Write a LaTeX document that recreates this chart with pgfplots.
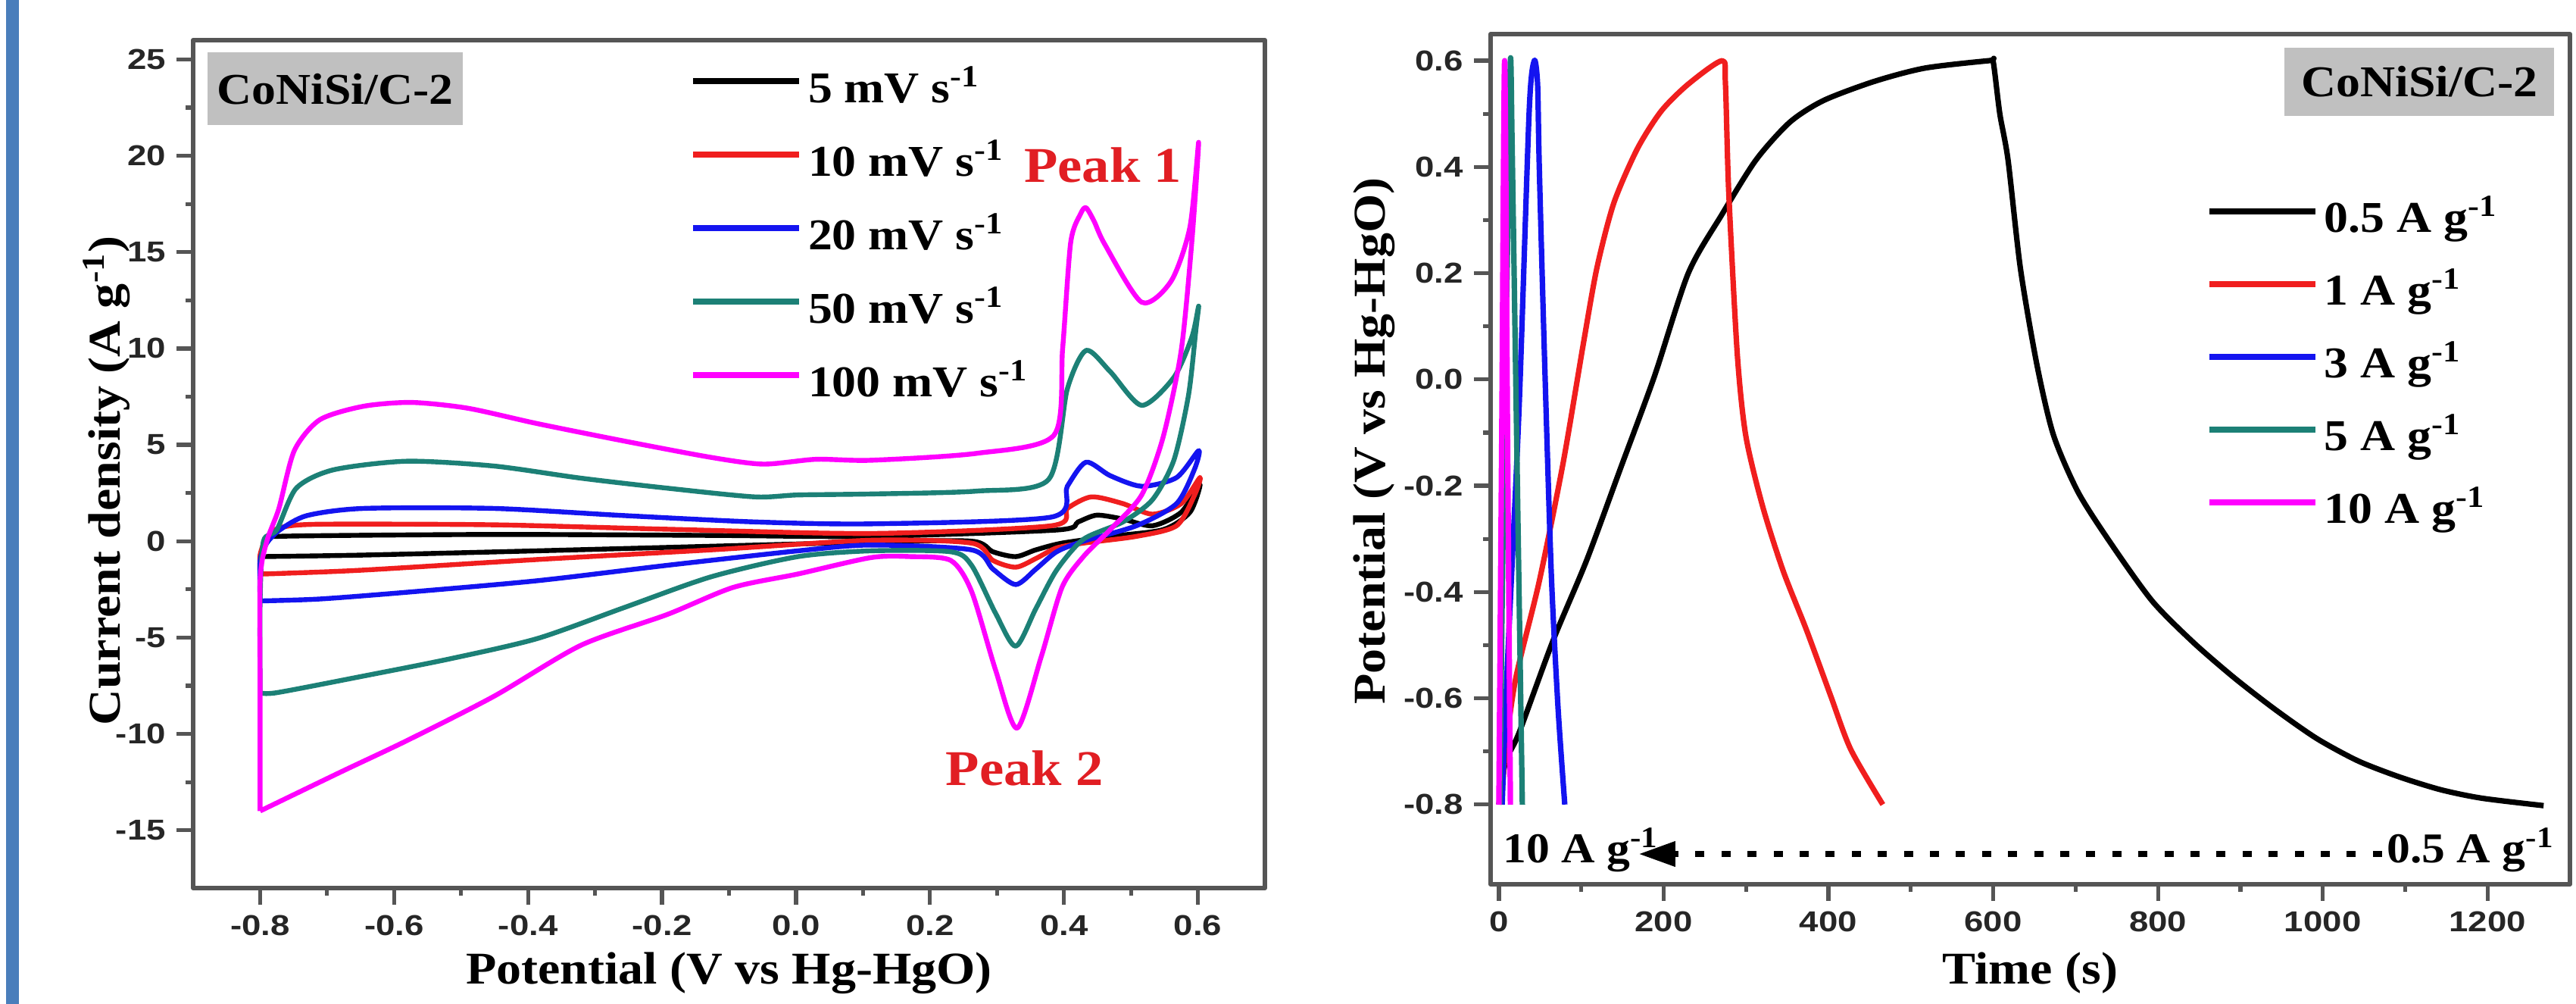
\documentclass[border=0pt]{standalone}
\usepackage{fontspec}
\setmainfont[FakeStretch=1.1]{Liberation Serif}
\newfontfamily\ticksf[FakeStretch=1.2]{Liberation Sans}
\usepackage{pgfplots}
\pgfplotsset{compat=1.18}
\usetikzlibrary{arrows.meta}

\definecolor{cvteal}{RGB}{28,128,118}
\definecolor{cvmag}{RGB}{255,0,255}
\definecolor{cvred}{RGB}{240,30,30}
\definecolor{cvblue}{RGB}{20,20,240}
\definecolor{framegray}{RGB}{85,85,85}
\definecolor{boxgray}{RGB}{192,192,192}
\definecolor{peakred}{RGB}{225,30,35}
\definecolor{sideblue}{RGB}{74,126,187}

\pgfplotsset{
  panel/.style={
    scale only axis,
    axis line style={framegray, line width=1.5pt},
    tick pos=left,
    tick align=outside,
    major tick length=5.5pt,
    minor tick length=2.5pt,
    tick style={framegray, line width=1.3pt},
    tick label style={font=\ticksf\bfseries\fontsize{9.5}{9.5}\selectfont, text=black!85},
    /pgf/number format/assume math mode=true,
    /pgf/number format/1000 sep={},
    legend cell align=left,
    legend style={draw=none, fill=none, column sep=2pt, inner sep=0pt, outer sep=0pt,
      font=\bfseries\fontsize{14.5}{14.5}\selectfont,
      nodes={inner sep=0pt, text height=11pt, text depth=4pt}},
    legend image code/.code={\draw[#1, line width=2pt] (0pt,3.5pt) -- (35pt,3.5pt);},
    smooth, tension=0.45, line join=round,
  }
}

\begin{document}
\begin{tikzpicture}
\path[use as bounding box] (0,0) rectangle (850.25pt,331.25pt);
\fill[sideblue] (2pt,0) rectangle (6.25pt,331.25pt);

% --- cyclic voltammetry ---
\begin{axis}[
    panel,
    at={(63.75pt,38.25pt)}, anchor=south west,
    width=353.75pt, height=279.75pt,
    xmin=-0.9, xmax=0.7, ymin=-18, ymax=26,
    xtick={-0.8,-0.6,...,0.61}, minor x tick num=1,
    ytick={-15,-10,...,25}, minor y tick num=1,
    xticklabel style={/pgf/number format/.cd, fixed, fixed zerofill, precision=1},
    xlabel={Potential (V vs Hg-HgO)},
    ylabel={Current density (A g\textsuperscript{-1})},
    every axis x label/.style={at={([yshift=-28pt]axis description cs:0.5,0)}, anchor=center,
      font=\bfseries\fontsize{15}{15}\selectfont},
    every axis y label/.style={at={([xshift=-28.5pt,yshift=-5.5pt]axis description cs:0,0.5)}, rotate=90, anchor=center,
      font=\bfseries\fontsize{15}{15}\selectfont},
    legend style={at={(rel axis cs:0.4636,0.966)}, anchor=north west, row sep=9.25pt},
]
\addplot[black, line width=1.6pt] coordinates {
(-0.80,-0.8) (-0.79,0.1) (-0.763,0.26) (-0.451,0.35) (-0.127,0.3) (0.112,0.25)
(0.389,0.58) (0.421,1.0) (0.449,1.35) (0.488,1.15) (0.532,0.8) (0.575,1.5) (0.603,2.95)
(0.588,1.5) (0.548,0.6) (0.469,0.25) (0.397,-0.1) (0.358,-0.45) (0.328,-0.8) (0.294,-0.55)
(0.262,0.0) (0.112,-0.05) (-0.386,-0.5) (-0.646,-0.72) (-0.80,-0.8)
};
\addlegendentry{5 mV s\textsuperscript{-1}}
\addplot[cvred, line width=1.6pt] coordinates {
(-0.80,-1.7) (-0.80,-0.7) (-0.79,0.2) (-0.77,0.7) (-0.711,0.88) (-0.451,0.85) (-0.192,0.62)
(0.112,0.4) (0.381,0.8) (0.405,1.7) (0.441,2.3) (0.488,1.95) (0.532,1.4) (0.575,1.95) (0.603,3.3)
(0.595,2.4) (0.568,0.8) (0.508,0.25) (0.429,-0.1) (0.389,-0.35) (0.358,-0.9) (0.328,-1.35)
(0.294,-1.0) (0.262,-0.1) (0.112,0.05) (-0.127,-0.45) (-0.386,-0.95) (-0.646,-1.5) (-0.775,-1.68) (-0.80,-1.7)
};
\addlegendentry{10 mV s\textsuperscript{-1}}
\addplot[cvblue, line width=1.6pt] coordinates {
(-0.80,-3.1) (-0.80,-1.0) (-0.79,-0.1) (-0.77,0.6) (-0.73,1.33) (-0.646,1.7) (-0.451,1.7)
(-0.257,1.33) (-0.062,1.0) (0.112,0.9) (0.381,1.25) (0.405,2.85) (0.433,4.1) (0.469,3.4)
(0.516,2.85) (0.568,3.3) (0.601,4.7) (0.595,3.75) (0.568,1.95) (0.508,0.8) (0.429,0.0)
(0.389,-0.55) (0.358,-1.45) (0.328,-2.25) (0.294,-1.45) (0.262,-0.45) (0.112,-0.2)
(0.003,-0.5) (-0.192,-1.25) (-0.386,-2.05) (-0.581,-2.65) (-0.711,-3.0) (-0.80,-3.1)
};
\addlegendentry{20 mV s\textsuperscript{-1}}
\addplot[cvteal, line width=1.6pt] coordinates {
(-0.80,-7.86) (-0.80,-3) (-0.795,0.0) (-0.775,0.6) (-0.746,2.75) (-0.691,3.7) (-0.581,4.15)
(-0.451,3.9) (-0.321,3.27) (-0.192,2.75) (-0.062,2.3) (0.003,2.4) (0.112,2.45) (0.27,2.6)
(0.377,3.2) (0.405,7.9) (0.433,9.9) (0.469,8.8) (0.516,7.05) (0.564,8.5) (0.591,10.6) (0.601,12.2)
(0.597,11.0) (0.586,7.6) (0.564,4.2) (0.532,2.15) (0.488,1.0) (0.429,0.1) (0.389,-1.5)
(0.358,-3.5) (0.328,-5.45) (0.298,-3.75) (0.262,-1.25) (0.231,-0.55) (0.112,-0.5) (0.003,-0.8)
(-0.127,-1.85) (-0.257,-3.45) (-0.386,-5.05) (-0.516,-6.1) (-0.646,-7.0) (-0.775,-7.86) (-0.80,-7.86)
};
\addlegendentry{50 mV s\textsuperscript{-1}}
\addplot[cvmag, line width=1.6pt] coordinates {
(-0.80,-14.0) (-0.80,-8) (-0.80,-2) (-0.79,0.0) (-0.772,1.7) (-0.749,4.7) (-0.711,6.3)
(-0.646,7.0) (-0.574,7.2) (-0.49,6.9) (-0.386,6.1) (-0.257,5.2) (-0.127,4.35) (-0.049,4.0)
(0.03,4.25) (0.112,4.2) (0.27,4.56) (0.385,5.5) (0.398,10.0) (0.41,15.5) (0.425,17.0) (0.433,17.3)
(0.445,16.6) (0.461,15.4) (0.516,12.4) (0.56,13.5) (0.588,16.3) (0.601,20.7) (0.591,15.6)
(0.575,9.9) (0.548,5.4) (0.516,2.4) (0.469,0.6) (0.429,-0.8) (0.397,-2.4) (0.366,-6.0)
(0.33,-9.7) (0.298,-6.7) (0.262,-2.6) (0.231,-1.0) (0.171,-0.8) (0.112,-0.85) (0.003,-1.7)
(-0.094,-2.4) (-0.192,-3.8) (-0.321,-5.4) (-0.451,-8.05) (-0.581,-10.35) (-0.678,-11.95) (-0.80,-14.0)
};
\addlegendentry{100 mV s\textsuperscript{-1}}

\node[fill=boxgray, anchor=north west, minimum width=84.25pt, minimum height=24pt, inner sep=0pt,
      font=\bfseries\fontsize{14.5}{14.5}\selectfont] at (rel axis cs:0.0127,0.986) {CoNiSi/C-2};
\node[text=peakred, font=\bfseries\fontsize{16.5}{16.5}\selectfont] at (axis cs:0.458,19.5) {Peak 1};
\node[text=peakred, font=\bfseries\fontsize{16.5}{16.5}\selectfont] at (axis cs:0.341,-11.8) {Peak 2};
\end{axis}

% --- galvanostatic charge-discharge ---
\begin{axis}[
    panel,
    at={(492pt,39.5pt)}, anchor=south west,
    width=356.25pt, height=280.5pt,
    xmin=-10, xmax=1300, ymin=-0.95, ymax=0.65,
    xtick={0,200,...,1200}, minor x tick num=1,
    ytick={-0.8,-0.6,...,0.61}, minor y tick num=1,
    yticklabel style={/pgf/number format/.cd, fixed, fixed zerofill, precision=1},
    xlabel={Time (s)},
    ylabel={Potential (V vs Hg-HgO)},
    every axis x label/.style={at={([yshift=-29.25pt]axis description cs:0.5,0)}, anchor=center,
      font=\bfseries\fontsize{15}{15}\selectfont},
    every axis y label/.style={at={([xshift=-38.5pt,yshift=6pt]axis description cs:0,0.5)}, rotate=90, anchor=center,
      font=\bfseries\fontsize{15}{15}\selectfont},
    legend style={at={(rel axis cs:0.663,0.806)}, anchor=north west, row sep=9pt},
]
\addplot[black, line width=1.8pt] coordinates {
(0,-0.80) (8,-0.72) (24.5,-0.665) (65.6,-0.492) (106.6,-0.34) (147.7,-0.167) (188.8,0.006)
(229.9,0.2) (270.9,0.311) (312,0.413) (353,0.484) (394,0.525) (455.7,0.561) (517,0.586)
(595,0.600) (600,0.598) (608,0.5) (618,0.413) (633,0.209) (653,0.028) (673,-0.104) (703,-0.212)
(743,-0.309) (793,-0.417) (843,-0.495) (893,-0.562) (943,-0.622) (993,-0.676) (1043,-0.718)
(1093,-0.748) (1143,-0.772) (1193,-0.788) (1268,-0.802)
};
\addlegendentry{0.5 A g\textsuperscript{-1}}
\addplot[cvred, line width=1.8pt] coordinates {
(3,-0.80) (8,-0.70) (20.4,-0.563) (49,-0.38) (78,-0.157) (102.5,0.067) (119,0.21) (139.5,0.332)
(168,0.434) (197,0.505) (230,0.556) (271,0.600) (275,0.556) (279,0.352) (289.4,0.047)
(299.7,-0.106) (320,-0.238) (345,-0.36) (373.5,-0.472) (402.4,-0.594) (427,-0.696) (466,-0.80)
};
\addlegendentry{1 A g\textsuperscript{-1}}
\addplot[cvblue, line width=1.8pt] coordinates {
(4,-0.80) (10,-0.55) (24.5,-0.055) (36.8,0.505) (43,0.600) (47,0.556) (49,0.403) (55.3,0.047)
(63.5,-0.36) (71.7,-0.615) (80,-0.80)
};
\addlegendentry{3 A g\textsuperscript{-1}}
\addplot[cvteal, line width=1.8pt] coordinates {
(1,-0.80) (5,-0.30) (10,0.20) (14,0.600) (16,0.45) (20,0.05) (24,-0.35) (28.5,-0.80)
};
\addlegendentry{5 A g\textsuperscript{-1}}
\addplot[cvmag, line width=1.8pt] coordinates {
(0,-0.80) (3.5,-0.10) (7,0.600) (10.5,-0.10) (14,-0.80)
};
\addlegendentry{10 A g\textsuperscript{-1}}

\node[fill=boxgray, anchor=north east, minimum width=89pt, minimum height=22.5pt, inner sep=0pt,
      font=\bfseries\fontsize{14.5}{14.5}\selectfont] at (rel axis cs:0.986,0.985) {CoNiSi/C-2};
\node[anchor=base west, inner sep=0pt, font=\bfseries\fontsize{14}{14}\selectfont]
      at (axis cs:4.6,-0.91) {10 A g\textsuperscript{-1}};
\node[anchor=base east, inner sep=0pt, font=\bfseries\fontsize{14}{14}\selectfont]
      (hi) at (axis cs:1282,-0.91) {0.5 A g\textsuperscript{-1}};
\draw[black, line width=1.8pt, dash pattern=on 3pt off 5.6pt, -{Triangle[length=12pt,width=8pt]}]
      ([xshift=-1.5pt]hi.west |- {axis cs:0,-0.893}) -- (axis cs:170,-0.893);
\end{axis}
\end{tikzpicture}
\end{document}
